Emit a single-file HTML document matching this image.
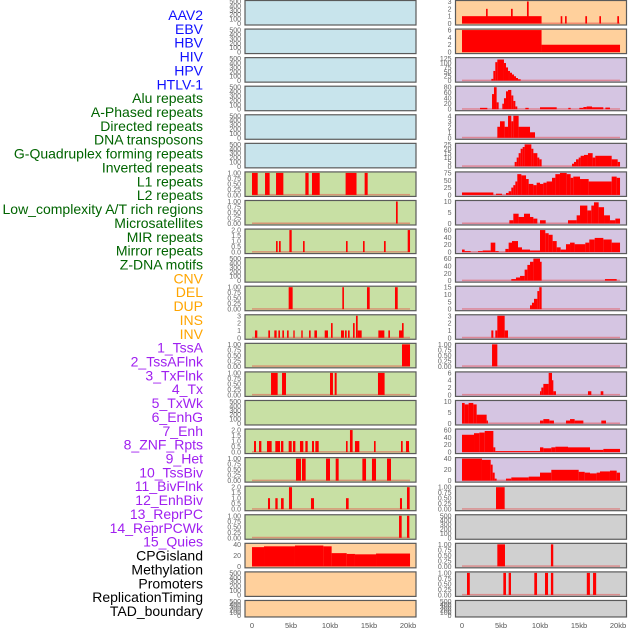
<!DOCTYPE html>
<html><head><meta charset="utf-8">
<style>
html,body{margin:0;padding:0;background:#fff;}
svg{display:block;font-family:"Liberation Sans",sans-serif;}
</style></head>
<body>
<svg id="chart" width="630" height="630" viewBox="0 0 630 630" xmlns="http://www.w3.org/2000/svg"></svg>
<script>
const labels = ["AAV2","EBV","HBV","HIV","HPV","HTLV-1","Alu repeats","A-Phased repeats","Directed repeats","DNA transposons","G-Quadruplex forming repeats","Inverted repeats","L1 repeats","L2 repeats","Low_complexity A/T rich regions","Microsatellites","MIR repeats","Mirror repeats","Z-DNA motifs","CNV","DEL","DUP","INS","INV","1_TssA","2_TssAFlnk","3_TxFlnk","4_Tx","5_TxWk","6_EnhG","7_Enh","8_ZNF_Rpts","9_Het","10_TssBiv","11_BivFlnk","12_EnhBiv","13_ReprPC","14_ReprPCWk","15_Quies","CPGisland","Methylation","Promoters","ReplicationTiming","TAD_boundary"];
const labelGroups = [6,13,5,15,5];
const xTicks = [0,5,10,15,20];
const xTickLabels = ["0","5kb","10kb","15kb","20kb"];
const ticksEmpty = ["0","100","200","300","400","500"];
const ticksUnit = ["0.00","0.25","0.50","0.75","1.00"];
const ticks2 = ["0.0","0.5","1.0","1.5","2.0"];

// Left column bars [startKb, endKb, value]
const L6 = [[0,0.73,1],[1.67,2.26,1],[3.08,4.02,1],[6.84,7.26,1],[7.69,8.68,1],[12.0,13.4,1],[14.44,14.83,1]];
const L7 = [[18.46,18.68,1]];
const L8 = [[3.08,3.29,1],[3.46,3.68,1],[4.79,5.09,2],[6.54,6.75,1],[12.05,12.26,1],[14.23,14.44,1],[16.92,17.14,1],[19.96,20.26,2]];
const L10 = [[4.70,5.21,1],[11.58,11.79,1],[14.74,15.09,1],[18.33,18.68,1]];
const L11 = [[0.38,0.68,1],[2.09,2.31,1],[2.86,3.16,1],[3.38,3.59,1],[3.89,4.10,1],[4.49,4.70,1],[5.30,5.47,1],[6.32,6.50,1],[7.31,7.52,1],[8.0,8.33,1],[9.32,9.74,1],[10.13,10.34,2],[11.41,11.79,1],[11.92,12.14,1],[12.31,12.52,1],[12.95,13.16,2],[13.33,13.55,3],[13.55,14.06,1],[16.2,16.97,1],[17.48,17.69,1],[18.85,19.23,1],[19.23,19.44,2]];
const L12 = [[19.23,20.26,1]];
const L13 = [[2.44,3.29,1],[3.85,4.36,1],[10.0,10.38,1],[10.6,10.85,1],[16.15,17.0,1]];
const L15 = [[0.26,0.51,1],[0.9,1.2,1],[1.92,2.52,1],[2.99,3.59,1],[3.72,4.02,1],[4.7,5.09,1],[5.26,5.56,1],[6.15,6.58,1],[6.84,7.14,1],[7.69,7.95,1],[8.12,8.55,1],[12.05,12.26,1],[12.56,12.9,2],[13.2,13.76,1],[15.64,15.85,1],[19.1,19.32,1],[19.74,20.13,1]];
const L16 = [[5.64,6.28,1],[6.41,6.88,1],[9.49,10.0,1],[10.73,11.11,1],[14.15,14.62,1],[15.38,15.9,1],[17.31,17.82,1]];
const L17 = [[2.05,2.31,1],[2.99,3.29,1],[3.72,4.06,1],[4.74,5.13,2],[7.56,7.95,1],[12.05,12.39,1],[18.97,19.23,1],[19.87,20.21,2]];
const L18 = [[18.85,19.19,1],[19.87,20.17,1]];
const L19 = [[0,1.54,48],[1.54,5.51,50],[5.51,9.15,52],[9.15,10.21,50],[10.21,12.14,33],[12.14,13.2,31],[13.2,15.9,30],[15.9,20.26,32]];

// Right column bars
const R0 = [[0,10.2,1],[3.08,3.29,2],[6.28,6.5,2],[8.33,8.55,3],[12.65,12.86,1],[13.21,13.42,1],[15.81,16.03,1],[17.61,17.82,1],[19.91,20.13,1]];
const R1 = [[0,10.2,6],[10.2,20.26,2]];
const R2 = [[3.76,4.02,10],[4.02,4.27,55],[4.27,4.53,105],[4.53,5.38,120],[5.38,5.64,100],[5.64,5.9,75],[5.9,6.15,55],[6.15,6.41,45],[6.41,6.67,35],[6.67,6.92,25],[6.92,7.18,15],[7.18,7.52,8]];
const R3 = [[2.31,3.25,5],[3.85,4.1,55],[4.1,4.44,80],[4.44,4.7,25],[5.17,5.38,20],[5.38,5.64,40],[5.64,5.9,65],[5.9,6.32,70],[6.32,6.58,50],[6.58,6.84,30],[6.84,7.09,10],[8.12,8.55,5],[10,12.14,7],[13.63,13.93,5],[15.04,15.56,5],[15.56,15.98,8],[15.98,16.67,10],[16.67,18.12,7],[18.38,18.97,6]];
const R4 = [[4.53,4.87,2],[4.87,5.47,3],[5.47,5.9,2],[5.9,6.32,4],[6.32,6.58,3],[6.58,7.26,4],[7.26,8.72,2],[8.72,9.36,1]];
const R5 = [[6.75,7.01,5],[7.01,7.26,10],[7.26,7.52,15],[7.52,7.78,20],[7.78,8.03,22],[8.03,8.89,25],[8.89,9.15,20],[9.15,9.66,15],[9.66,9.91,10],[9.91,10.21,8],[14.1,14.36,3],[14.36,14.62,5],[14.62,14.96,8],[14.96,15.21,10],[15.21,15.64,12],[15.64,16.15,13],[16.15,16.75,15],[16.75,17.09,10],[17.09,17.69,12],[17.69,19.19,12],[19.19,19.96,8],[19.96,20.26,5]];
const R6 = [[0,4.02,10],[4.36,5.13,5],[5.64,5.98,8],[5.98,6.32,15],[6.32,6.58,30],[6.58,6.84,40],[6.84,7.09,55],[7.09,7.61,85],[7.61,8.21,80],[8.21,8.55,65],[8.55,9.15,45],[9.15,9.57,40],[9.57,10,50],[10,10.43,45],[10.43,10.85,50],[10.85,11.54,55],[11.54,11.97,70],[11.97,12.56,85],[12.56,13.42,90],[13.42,13.93,85],[13.93,14.27,70],[14.27,15.13,75],[15.13,16.24,65],[16.24,19.19,55],[19.19,19.83,75],[19.83,20.26,70]];
const R7 = [[6.07,6.58,2],[6.58,7.26,6],[7.26,7.95,4],[7.95,8.72,6],[8.72,9.15,4],[9.15,9.66,3],[10,10.73,2],[13.59,14.7,2],[14.7,15.13,5],[15.13,16.07,11],[16.07,16.58,8],[16.58,16.92,11],[16.92,17.52,13],[17.52,18.21,10],[18.21,18.97,5],[18.97,19.66,2],[19.66,20.26,3]];
const R8 = [[0,0.34,8],[0.34,1.11,3],[2.05,2.65,3],[2.65,3.68,5],[3.68,4.27,30],[4.27,4.7,3],[5.56,5.98,10],[5.98,6.41,30],[6.41,7.18,35],[7.18,7.69,15],[7.69,8.72,8],[8.72,10,5],[10,10.68,70],[10.68,11.11,60],[11.11,11.62,55],[11.62,12.14,35],[12.14,12.65,15],[12.65,13.33,8],[13.33,13.85,25],[13.85,14.44,30],[14.44,15.81,25],[15.81,16.32,30],[16.32,17.01,40],[17.01,18.12,45],[18.12,19.19,40],[19.19,20.26,30]];
const R9 = [[6.32,6.92,5],[6.92,7.44,10],[7.44,8.03,15],[8.03,8.38,35],[8.38,8.72,50],[8.72,9.15,60],[9.15,10,70],[10,10.21,60],[18.33,19.83,5]];
const R10 = [[8.72,8.97,3],[8.97,9.23,5],[9.23,9.66,8],[9.66,9.91,14],[9.91,10.21,17]];
const R11 = [[3.76,4.02,1],[4.27,4.53,1],[4.53,5.47,3],[5.47,5.9,1]];
const R12 = [[3.85,4.53,1]];
const R13 = [[10,10.17,1],[10.17,10.43,2],[10.43,11.11,3],[11.11,11.54,6],[11.54,11.71,4],[11.71,12.05,1],[16.15,16.58,1],[17.78,18.12,1]];
const R14 = [[0,0.34,14],[0.34,0.85,13],[0.85,1.45,14],[1.45,1.88,13],[1.88,3.16,6],[3.16,3.33,2],[10,10.43,2],[10.43,11.2,3],[11.2,11.79,2],[13.33,13.85,2],[13.85,14.44,3],[14.44,15.56,2],[17.86,18.46,2]];
const R15 = [[0,1.54,55],[1.54,2.22,60],[2.22,2.91,62],[2.91,4.02,67],[4.02,4.27,15],[4.27,10,3],[10,10.43,15],[10.43,11.45,12],[11.45,11.97,15],[11.97,13.59,17],[13.59,16.41,15],[16.41,18.12,7],[18.12,20.26,10]];
const R16 = [[0,2.56,55],[2.56,3.68,52],[3.68,3.93,40],[3.93,4.19,20],[4.19,4.44,5],[5.64,6.32,5],[6.32,8.55,8],[8.55,10,10],[10,11.45,20],[11.45,14.96,27],[14.96,15.73,22],[15.73,16.41,20],[16.41,17.26,18],[17.26,17.69,20],[17.69,18.97,23],[18.97,19.83,25],[19.83,20.26,20]];
const R17 = [[4.36,5.47,1]];
const R19 = [[4.53,5.51,1],[11.4,11.7,1]];
const R20 = [[0.64,1.0,1],[5.3,5.64,1],[5.98,6.28,1],[9.27,9.62,1],[10.64,11.03,1],[11.4,11.7,1],[16.0,16.4,1],[16.8,17.2,1]];

const leftBars = [null,null,null,null,null,null,L6,L7,L8,null,L10,L11,L12,L13,null,L15,L16,L17,L18,L19,null,null];
const leftMax = [500,500,500,500,500,500,1,1,2,500,1,3,1,1,500,2,1,2,1,55,500,500];
const leftTicks = [ticksEmpty,ticksEmpty,ticksEmpty,ticksEmpty,ticksEmpty,ticksEmpty,ticksUnit,ticksUnit,ticks2,ticksEmpty,ticksUnit,["0","1","2","3"],ticksUnit,ticksUnit,ticksEmpty,ticks2,ticksUnit,ticks2,ticksUnit,["0","20","40"],ticksEmpty,ticksEmpty];
const rightBars = [R0,R1,R2,R3,R4,R5,R6,R7,R8,R9,R10,R11,R12,R13,R14,R15,R16,R17,null,R19,R20,null];
const rightMax = [3,6,125,80,4,25,90,13.5,70,70,17,3,1,6,15,70,55,1,500,1,1,500];
const rightTicks = [["0","1","2","3"],["0","2","4","6"],["0","25","50","75","100","125"],["0","20","40","60","80"],["0","1","2","3","4"],["0","5","10","15","20","25"],["0","25","50","75"],["0","5","10"],["0","20","40","60"],["0","20","40","60"],["0","5","10","15"],["0","1","2","3"],ticksUnit,["0","2","4","6"],["0","5","10"],["0","20","40","60"],["0","20","40"],ticksUnit,ticksEmpty,ticksUnit,ticksUnit,ticksEmpty];

const NS = "http://www.w3.org/2000/svg";
const svg = document.getElementById('chart');
function mk(tag, attrs, parent){
  const e = document.createElementNS(NS, tag);
  for (const k in attrs) e.setAttribute(k, attrs[k]);
  (parent||svg).appendChild(e);
  return e;
}
const groupColors = ["#1010ff","#006400","#ffa500","#a020f0","#000000"];
let gi = 0, gc = 0;
labels.forEach((t,i)=>{
  const tx = mk('text',{x:203,y:15+i*13.86+5,'text-anchor':'end','font-size':'14',fill:groupColors[gi]});
  
  
  tx.textContent = t;
  gc++; if (gc >= labelGroups[gi]) { gi++; gc = 0; }
});

function bg(col,row){
  if (col===0) return row<6 ? "#c8e4ec" : (row<19 ? "#c8e0a4" : "#ffd09c");
  return row<2 ? "#ffd09c" : (row<17 ? "#d5c5e2" : "#d0d0d0");
}
const rowTop = r => r*28.57;
const rowH = r => r===21 ? 17 : 25;
const colX = [245,455.5], colW = 171;
const kbOrigin = [252,462], pxPerKb = 7.8;

function panel(col,row,bars,ymax,ticks){
  const top = rowTop(row), h = rowH(row), x0 = colX[col];
  const g = mk('g',{});
  
  
  mk('rect',{x:x0,y:top+0.5,width:colW,height:h-0.5,fill:bg(col,row),stroke:'#5a5a5a','stroke-width':1.2},g);
  const yb = top+h-1.5, yt = top+1.5;
  const ys = v => yb - (v/ymax)*(yb-yt);
  const xs = kb => kbOrigin[col] + kb*pxPerKb;
  ticks.forEach((t,i)=>{
    const v = ymax*i/(ticks.length-1);
    const tt = mk('text',{x:x0-4,y:ys(v)+2.5,'text-anchor':'end','font-size':'7',fill:'#666'},g);
    
    
    tt.textContent = t;
  });
  if (bars){
    const bl = mk('rect',{x:xs(0),y:yb-1,width:xs(20.26)-xs(0),height:1.5,fill:'rgba(230,60,60,0.45)'},g);
    
    
    bars.forEach(b=>{
      const r = mk('rect',{x:xs(b[0]),y:ys(b[2]),width:Math.max(1,xs(b[1])-xs(b[0])),height:yb-ys(b[2]),fill:'#ff0000'},g);
      
      
    });
  }
}
for (let r=0;r<22;r++){
  panel(0,r,leftBars[r],leftMax[r],leftTicks[r]);
  panel(1,r,rightBars[r],rightMax[r],rightTicks[r]);
}
[0,1].forEach(col=>{
  xTicks.forEach((v,i)=>{
    const t = mk('text',{x:kbOrigin[col]+v*pxPerKb,y:628,'text-anchor':'middle','font-size':'7.5',fill:'#555'});
    
    
    t.textContent = xTickLabels[i];
  });
});
</script>
</body></html>
